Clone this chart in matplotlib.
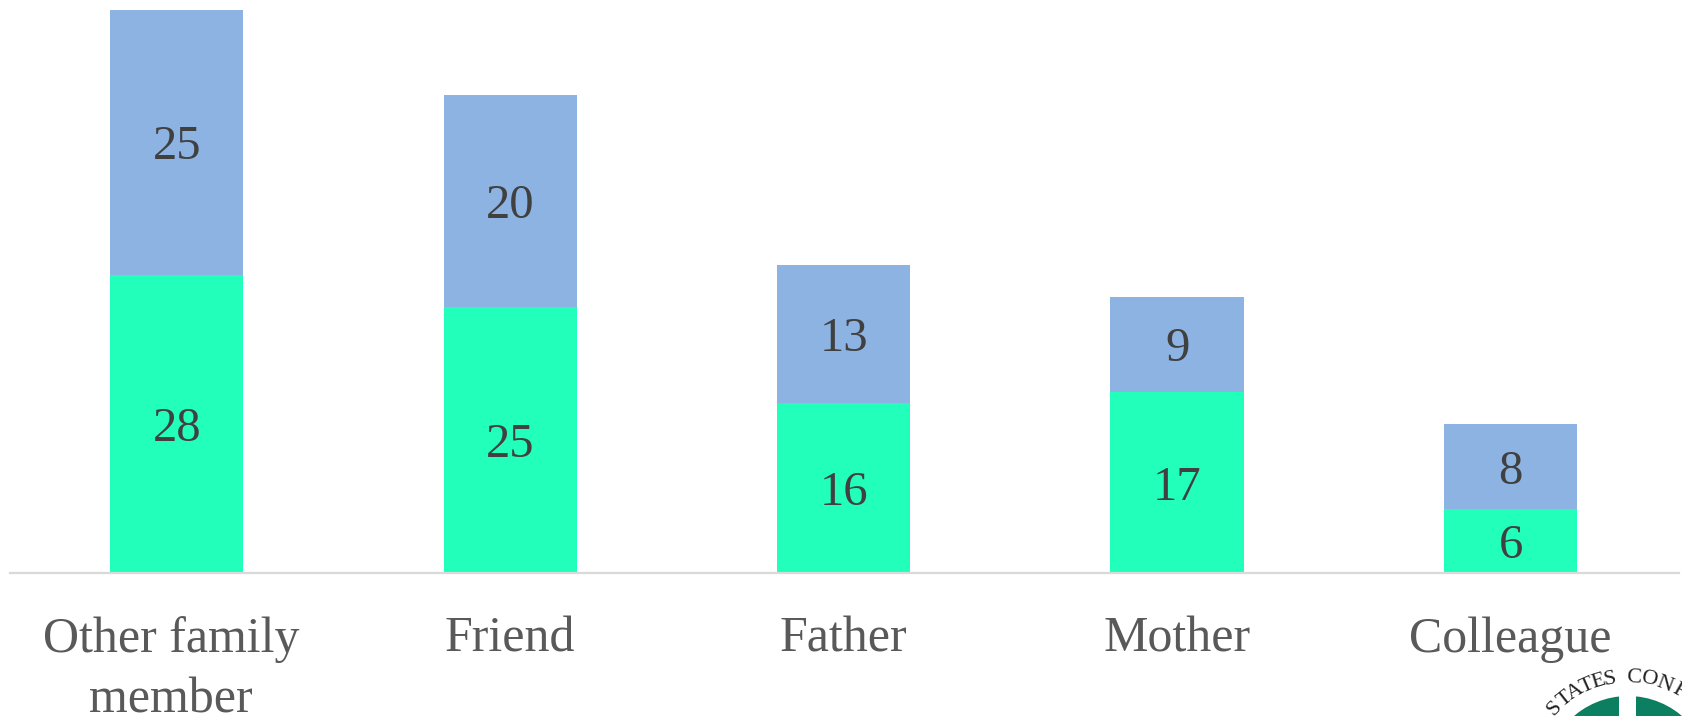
import numpy as np
import matplotlib
matplotlib.use('Agg')
import matplotlib.pyplot as plt
from matplotlib.patches import Circle, Rectangle
from matplotlib.transforms import ScaledTranslation

plt.rcParams['font.family'] = ['Liberation Serif', 'DejaVu Serif']

categories = ['Other family\nmember', 'Friend', 'Father', 'Mother', 'Colleague']
lower_values = [28, 25, 16, 17, 6]
upper_values = [25, 20, 13, 9, 8]

seal_letters = ['S', 'T', 'A', 'T', 'E', 'S', 'C', 'O', 'N', 'F']
seal_angles = [-46, -38.5, -31, -24, -17, -10.5, 3, 12, 21, 30]

W, H = 1683, 716
fig = plt.figure(figsize=(W / 100, H / 100), dpi=100)
ax = fig.add_axes([10 / W, 143 / H, 1669 / W, 573 / H])

x = np.arange(len(categories))
ax.bar(x, lower_values, width=0.4, color='#21FFBA')
ax.bar(x, upper_values, width=0.4, bottom=lower_values, color='#8DB3E2')

for i in x:
    ax.text(i, lower_values[i] / 2, str(lower_values[i]), ha='center', va='center_baseline',
            fontsize=35, color='#404040')
    ax.text(i, lower_values[i] + upper_values[i] / 2, str(upper_values[i]), ha='center',
            va='center_baseline', fontsize=35, color='#404040')

ax.set_xlim(-0.5, 4.505)
ax.set_ylim(0, 53.9)
ax.set_yticks([])
ax.set_xticks(x)
ax.set_xticklabels(categories, fontsize=36, color='#595959', linespacing=1.4)
ax.tick_params(axis='x', length=0, pad=31)
# first label sits a little left of its bar
first = ax.get_xticklabels()[0]
first.set_transform(first.get_transform() + ScaledTranslation(-4 / 72, 0, fig.dpi_scale_trans))
for side in ['top', 'left', 'right']:
    ax.spines[side].set_visible(False)
ax.spines['bottom'].set_color('#D9D9D9')
ax.spines['bottom'].set_linewidth(1.6)

# seal cut off in the bottom right corner, drawn in pixel coordinates
seal = fig.add_axes([0, 0, 1, 1], zorder=3)
seal.set_xlim(0, W)
seal.set_ylim(H, 0)
seal.axis('off')
seal.add_patch(Circle((1628, 779), 83, color='#0B7F5F', lw=0))
seal.add_patch(Rectangle((1619, 680), 17, 40, color='white', lw=0))
for letter, angle in zip(seal_letters, seal_angles):
    a = np.radians(angle)
    seal.text(1628 + 97 * np.sin(a), 779 - 97 * np.cos(a), letter, rotation=-angle,
              rotation_mode='anchor', ha='center', va='baseline', fontsize=16, color='#222222')

fig.savefig('out.png', dpi=100)
